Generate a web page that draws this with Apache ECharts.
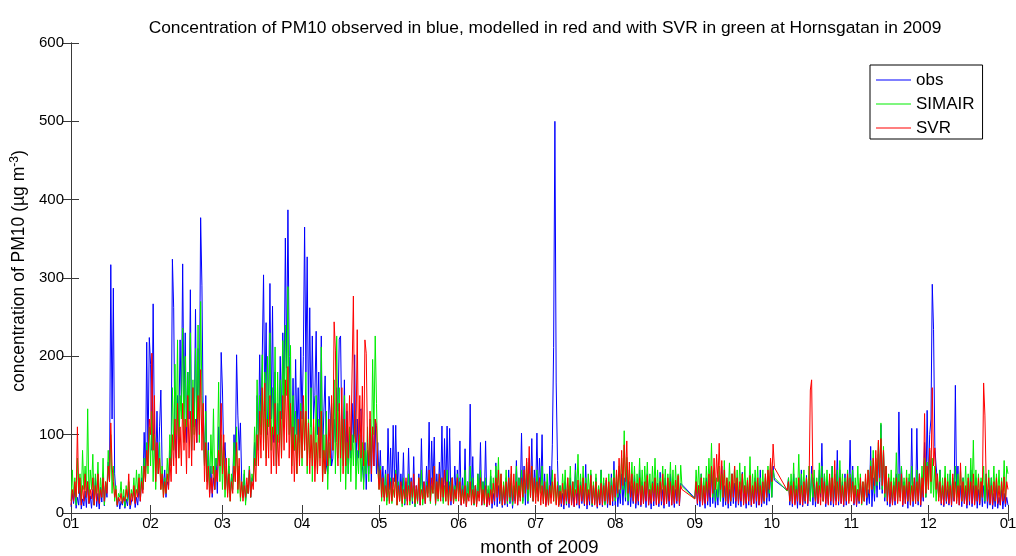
<!DOCTYPE html>
<html>
<head>
<meta charset="utf-8">
<script src="https://cdn.jsdelivr.net/npm/echarts@6/dist/echarts.min.js"></script>
<style>
  html, body { margin: 0; padding: 0; background: #fff; }
  #chart { width: 1016px; height: 556px; }
</style>
</head>
<body>
<div id="chart"></div>
<script>
// Day of year at which each month starts; the last entry closes the year.
const monthStarts = [0, 31, 59, 90, 120, 151, 181, 212, 243, 273, 304, 334, 365];
const monthLabels = ['01', '02', '03', '04', '05', '06', '07', '08', '09', '10', '11', '12', '01'];
const yTicks = [0, 100, 200, 300, 400, 500, 600];

// PM10 (µg m-3), two readings per day, one list per month (null = no data).
const obs = [
  [8,25,12,30,6,20,10,35,5,18, 9,28,7,40,12,22,6,30,10,45, 8,25,5,33,14,50,9,38,20,65,
   40,317,120,287,50,25,8,20,5,15, 10,22,6,18,9,30,5,14,12,28, 7,20,10,35,15,45,30,103,45,218, 70,224],
  [190,80,267,100,60,130,50,110,157,60, 30,55,20,40,35,80,60,324,262,90, 70,150,110,221,130,318,140,230,90,180,
   120,285,80,160,110,260,90,210,130,377, 290,120,60,150,40,90,25,60,20,45, 30,70,25,110,60,205],
  [157,70,90,50,30,60,20,45,40,100, 60,202,125,80,115,40,20,50,15,35, 25,60,20,45,40,90,60,150,90,202,
   110,200,304,130,243,100,150,293,120,264, 90,180,60,140,100,200,120,230,150,351, 185,387,200,120,90,172,80,196,100,160, 90,212],
  [120,200,365,180,327,120,262,110,226,120, 150,232,100,180,80,226,70,130,175,60, 50,149,125,60,70,120,90,160,130,222,
   226,100,80,170,60,130,50,100,70,140, 90,202,60,120,70,130,133,60,40,90, 30,80,50,100,40,110,60,120,50,90],
  [40,80,30,60,20,55,15,108,30,83, 20,112,40,112,25,78,15,50,20,77, 10,40,15,83,20,45,12,72,8,35,
   15,50,10,95,20,40,12,60,25,116, 15,92,30,97,10,50,20,65,30,111, 15,95,25,111,20,108,10,45,15,60, 20,55],
  [25,92,10,45,15,82,8,40,20,139, 15,72,10,35,12,50,20,90,10,40, 15,92,8,30,12,47,6,25,10,64,
   8,35,12,40,7,30,10,45,8,55, 12,38,6,28,15,67,10,45,20,102, 15,60,10,50,12,70,20,95,15,55],
  [25,102,20,70,30,100,15,50,10,40, 12,60,20,87,211,500,166,67,10,35, 8,25,5,40,10,30,7,45,12,28,
   8,63,10,35,6,40,12,30,9,62, 5,28,10,50,8,35,12,45,6,30, 10,55,8,38,12,42,7,30,10,50, 9,66],
  [10,40,8,30,12,50,10,45,15,60, 10,40,8,35,12,48,6,30,10,55, 8,40,12,35,7,50,10,30,5,40,
   9,45,12,38,8,52,10,30,6,45, 12,35,8,50,10,40,7,30,12,45, 9,38,38,null,null,null,null,null,null,null, null,null],
  [19,40,10,35,8,50,12,30,6,45, 10,38,8,55,12,40,7,30,10,48, 15,60,8,35,10,42,6,30,9,50,
   12,38,7,45,10,30,8,52,12,35, 6,40,10,48,8,30,12,45,7,38, 10,55,8,30,12,45,10,40,15,55],
  [20,60,42,null,null,null,null,null,null,null, null,null,29,45,10,40,8,50,12,35, 6,45,10,55,8,30,12,48,9,40,
   15,60,10,45,8,38,12,55,20,89, 15,50,8,40,12,45,10,60,8,35, 15,80,10,55,12,40,8,50,10,45, 25,93],
  [20,60,10,35,8,30,12,38,20,33, 15,40,10,30,12,85,8,45,15,60, 20,75,30,113,25,80,15,60,10,45,
   8,30,12,40,10,50,15,129,20,60, 8,40,12,35,6,45,10,108,8,40, 12,108,10,50,8,35,15,90,20,131],
  [40,100,120,292,234,85,60,40,20,55, 10,35,8,45,12,30,10,50,8,40, 15,163,20,60,10,35,8,45,12,30,
   6,40,10,55,8,35,12,45,6,30, 10,40,8,35,12,50,6,30,10,45, 5,25,8,35,6,20,10,30,5,25, 8,20,10]
];

const simair = [
  [15,55,20,45,10,70,25,50,15,80, 30,60,20,133,15,55,30,75,10,50, 25,65,15,45,20,70,10,40,30,80,
   40,100,25,60,15,35,10,25,20,40, 12,30,8,35,15,40,10,30,20,45, 15,55,25,50,20,60,30,70,40,90, 50,110],
  [60,130,40,100,30,80,50,90,30,60, 20,45,25,70,40,100,60,160,80,190, 100,221,70,150,120,236,90,200,110,180,
   130,230,80,170,100,210,120,240,90,270, 150,110,60,130,40,80,30,100,50,133, 30,70,60,167,40,100],
  [30,80,20,60,25,70,15,50,30,90, 40,110,25,60,15,40,20,55,10,35, 25,60,20,50,40,110,60,170,80,150,
   100,202,90,180,70,200,110,230,80,160, 100,212,60,180,90,170,70,220,110,240, 150,289,100,214,60,150,80,130,50,120, 70,140],
  [60,130,80,180,50,120,70,160,40,110, 60,150,50,120,70,212,40,100,50,130, 30,90,60,140,80,170,50,226,70,160,
   40,120,60,150,30,90,50,110,40,100, 60,130,30,80,50,100,40,90,30,80, 50,110,40,120,60,196,100,226,140,60],
  [30,60,15,40,20,50,10,35,15,45, 12,30,20,55,10,40,15,35,8,45, 12,30,20,50,10,40,15,35,8,30,
   12,45,20,55,10,30,15,40,20,50, 12,35,25,60,10,40,15,50,20,45, 12,35,15,55,10,40,20,45,12,35, 15,50],
  [20,45,12,35,15,55,10,40,20,60, 15,45,10,35,12,50,20,55,15,40, 10,45,12,35,20,55,15,45,20,60,
   25,71,15,50,10,40,20,55,12,45, 15,50,10,35,20,60,15,45,20,55, 12,40,25,65,15,50,20,60,15,45],
  [20,55,15,45,25,60,12,40,15,50, 10,35,20,55,15,45,12,40,10,35, 15,50,20,55,12,45,18,60,15,40,
   20,55,25,75,15,50,20,60,12,45, 15,50,20,55,10,40,15,50,12,35, 20,55,15,45,10,40,15,50,12,45, 20,55],
  [15,50,20,60,25,70,30,105,20,71, 15,55,25,65,20,60,15,50,25,70, 20,55,15,60,25,65,20,50,15,60,
   25,70,20,55,15,45,25,60,20,56, 15,50,25,65,20,55,15,61,20,50, 15,61,34,null,null,null,null,null,null,null, null,null],
  [18,55,25,60,20,50,15,45,20,60, 25,70,30,89,20,55,15,45,20,60, 15,50,20,67,15,45,20,64,15,50,
   25,60,20,55,15,64,20,50,25,60, 15,45,20,72,15,50,20,55,25,60, 15,45,20,55,15,50,20,60,25,65],
  [20,55,45,null,null,null,null,null,null,null, null,null,28,45,15,50,20,64,15,45, 20,75,15,50,20,55,15,45,20,60,
   15,50,20,55,15,45,20,64,25,60, 15,50,20,55,15,45,20,60,15,50, 20,55,15,67,20,50,15,45,20,55, 15,50],
  [20,55,15,45,20,60,15,50,10,40, 15,45,20,55,25,67,30,80,25,70, 35,90,40,115,30,85,20,60,15,50,
   20,55,15,45,20,77,15,50,20,60, 15,45,20,55,15,50,20,60,15,45, 20,55,15,50,20,60,25,70,20,65],
  [30,80,25,70,20,60,15,50,20,55, 15,45,20,60,15,50,20,55,15,45, 20,60,15,50,20,55,15,45,20,60,
   15,50,20,70,25,93,15,55,20,50, 15,45,20,60,15,50,20,55,15,45, 20,60,15,50,20,55,15,45,20,67, 15,60,50]
];

const svr = [
  [10,30,15,40,20,110,25,45,10,35, 15,50,20,40,12,30,18,45,10,35, 15,50,12,30,20,45,15,40,25,60,
   40,115,60,40,20,30,10,20,15,25, 12,20,15,30,20,50,10,25,15,35, 12,30,20,45,15,40,25,60,40,80, 60,120],
  [100,204,80,150,40,90,50,70,30,50, 20,40,25,50,30,70,40,100,60,120, 50,140,70,110,60,140,80,120,50,150,
   70,130,60,160,80,120,90,150,100,183, 80,140,40,90,30,60,20,45,25,60, 30,55,40,80,60,140],
  [50,100,30,70,20,50,15,40,25,60, 40,90,30,70,20,40,15,35,20,45, 25,55,20,40,30,70,40,100,60,130,
   70,160,80,166,60,120,70,150,50,110, 60,140,50,100,60,130,70,150,80,170, 90,187,70,140,50,110,40,100,50,120, 60,130],
  [70,150,80,130,60,115,50,100,60,120, 40,90,50,110,60,130,40,80,50,100, 60,120,70,150,80,244,208,90,60,140,
   70,160,50,120,60,140,70,150,80,180, 277,100,90,234,80,150,70,162,60,221, 204,90,60,130,50,110,60,120,112,60],
  [30,55,20,45,15,35,20,50,12,40, 15,45,20,50,10,35,15,40,12,30, 18,45,10,35,15,40,20,50,12,35,
   15,45,10,30,18,40,12,35,20,55, 15,45,25,60,12,40,18,50,15,45, 20,55,15,40,10,35,15,45,12,30, 18,45],
  [15,40,10,30,12,35,8,25,15,40, 10,30,12,35,8,28,15,45,10,30, 12,35,8,25,10,30,12,38,15,45,
   20,55,15,50,10,35,12,40,15,45, 20,60,15,50,12,40,10,35,15,45, 20,55,25,70,30,85,20,60,15,45],
  [12,40,15,45,10,35,12,40,8,30, 10,35,12,40,15,50,10,35,8,28, 12,38,10,30,15,45,12,35,10,40,
   8,30,12,42,10,35,15,45,12,38, 10,30,15,48,12,35,10,40,8,30, 12,38,10,35,15,45,12,40,10,35, 15,45],
  [20,55,25,70,30,80,35,87,40,92, 25,65,20,50,15,40,12,38,15,45, 10,35,12,40,15,48,10,30,12,38,
   15,45,10,35,12,40,15,50,10,35, 12,45,15,40,10,35,12,42,15,48, 10,35,30,null,null,null,null,null,null,null, null,null],
  [18,40,12,35,15,45,10,35,12,40, 15,50,20,60,25,70,30,75,40,89, 30,67,20,55,15,45,12,40,15,50,
   20,60,15,45,12,40,15,50,10,35, 12,42,15,48,10,35,12,40,15,45, 10,35,12,40,15,50,20,55,30,70],
  [40,88,58,null,null,null,null,null,null,null, null,null,29,40,15,35,12,40,10,30, 15,45,12,35,10,40,15,45,12,35,
   157,170,40,30,15,40,12,35,10,45, 15,40,12,35,10,50,15,45,12,67, 10,40,15,45,12,35,10,40,15,50, 12,45],
  [15,40,12,35,10,30,15,45,12,40, 15,50,20,55,25,60,30,70,35,80, 40,93,45,95,35,80,25,60,15,45,
   12,40,10,35,15,45,12,40,15,50, 10,35,12,45,15,40,10,35,15,45, 12,40,15,50,10,45,20,127,25,60],
  [30,83,40,160,60,83,30,50,15,40, 12,35,10,45,15,40,12,35,10,50, 15,40,12,35,10,64,15,40,12,35,
   10,45,15,40,12,50,10,35,15,45, 12,40,20,166,125,40,15,45,12,35, 10,40,15,45,12,35,10,40,15,46, 12,40,30]
];

// Turn the monthly lists into [day, value] pairs on the day-of-year axis.
function toPoints(months) {
  const pts = [];
  months.forEach(function (vals, m) {
    vals.forEach(function (v, j) { pts.push([monthStarts[m] + j * 0.5, v]); });
  });
  return pts;
}

const FONT = '"Liberation Sans", Arial, Helvetica, sans-serif';
const AXIS_COLOR = '#3a3a3a';

function lineSeries(name, months, color) {
  return {
    name: name,
    type: 'line',
    data: toPoints(months),
    showSymbol: false,
    symbol: 'none',
    connectNulls: true,
    sampling: null,
    lineStyle: { width: 1, color: color },
    itemStyle: { color: color },
    emphasis: { disabled: true },
    animation: false
  };
}

const chart = echarts.init(document.getElementById('chart'), null, { renderer: 'canvas' });

chart.setOption({
  backgroundColor: '#ffffff',
  animation: false,
  title: {
    text: 'Concentration of PM10 observed in blue, modelled in red and with SVR in green at Hornsgatan in 2009',
    left: 540,
    top: 15,
    textAlign: 'center',
    textStyle: { fontFamily: FONT, fontSize: 17.4, fontWeight: 'normal', color: '#000' }
  },
  legend: {
    orient: 'vertical',
    left: 870,
    top: 65,
    padding: [5, 8, 1, 6],
    itemGap: 4,
    itemWidth: 35,
    itemHeight: 1,
    itemTextGap: 3,
    icon: 'rect',
    backgroundColor: '#ffffff',
    borderColor: '#000',
    borderWidth: 1,
    borderRadius: 0,
    textStyle: { fontFamily: FONT, fontSize: 17, color: '#000', lineHeight: 20 },
    data: ['obs', 'SIMAIR', 'SVR']
  },
  grid: { left: 71, right: 8, top: 43, bottom: 43, containLabel: false, outerBoundsMode: 'none' },
  xAxis: [
    {
      type: 'value',
      min: 0,
      max: 365,
      name: 'month of 2009',
      nameLocation: 'middle',
      nameGap: 25,
      nameTextStyle: { fontFamily: FONT, fontSize: 18.5, color: '#000' },
      axisLine: { lineStyle: { color: AXIS_COLOR, width: 1 } },
      axisTick: { inside: true, length: 8, customValues: monthStarts, lineStyle: { color: AXIS_COLOR } },
      axisLabel: {
        customValues: monthStarts,
        margin: 3,
        fontFamily: FONT,
        fontSize: 15,
        color: '#000',
        formatter: function (v) { return monthLabels[monthStarts.indexOf(v)]; }
      },
      splitLine: { show: false }
    },
    {
      type: 'value',
      position: 'top',
      min: 0,
      max: 365,
      axisLine: { lineStyle: { color: AXIS_COLOR, width: 1 } },
      axisTick: { inside: true, length: 8, customValues: monthStarts, lineStyle: { color: AXIS_COLOR } },
      axisLabel: { show: false },
      splitLine: { show: false }
    }
  ],
  yAxis: [
    {
      type: 'value',
      min: yTicks[0],
      max: yTicks[yTicks.length - 1],
      interval: 100,
      name: 'concentration of PM10 (µg m{sup|-3})',
      nameLocation: 'middle',
      nameGap: 37,
      nameTextStyle: {
        fontFamily: FONT, fontSize: 17.5, color: '#000',
        padding: [0, 0, 0, 14],
        rich: { sup: { fontFamily: FONT, fontSize: 12, color: '#000', verticalAlign: 'top', padding: [0, 0, 8, 0] } }
      },
      axisLine: { show: true, lineStyle: { color: AXIS_COLOR, width: 1 } },
      axisTick: { show: true, inside: true, length: 8, lineStyle: { color: AXIS_COLOR } },
      axisLabel: { margin: 7, fontFamily: FONT, fontSize: 15, color: '#000' },
      splitLine: { show: false }
    },
    {
      type: 'value',
      position: 'right',
      min: yTicks[0],
      max: yTicks[yTicks.length - 1],
      interval: 100,
      axisLine: { show: true, lineStyle: { color: AXIS_COLOR, width: 1 } },
      axisTick: { show: true, inside: true, length: 8, lineStyle: { color: AXIS_COLOR } },
      axisLabel: { show: false },
      splitLine: { show: false }
    }
  ],
  series: [
    lineSeries('obs', obs, '#0000ff'),
    lineSeries('SIMAIR', simair, '#00ee00'),
    lineSeries('SVR', svr, '#ff0000')
  ]
});
</script>
</body>
</html>
